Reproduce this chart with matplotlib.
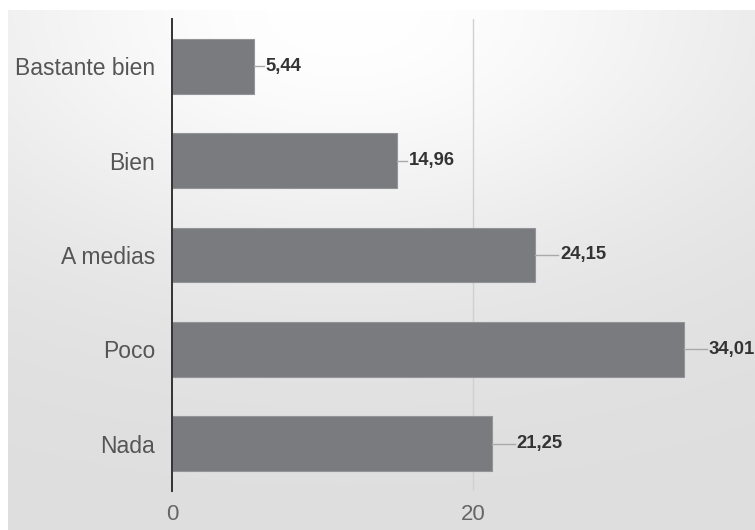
import numpy as np
import matplotlib.pyplot as plt

# data
categories = ["Bastante bien", "Bien", "A medias", "Poco", "Nada"]
values = [5.44, 14.96, 24.15, 34.01, 21.25]
value_labels = ["5,44", "14,96", "24,15", "34,01", "21,25"]

plt.rcParams['font.family'] = ['Liberation Sans', 'DejaVu Sans']

fig = plt.figure(figsize=(7.55, 5.30), dpi=100)

# soft grey gradient background (lighter near the top centre)
bg = fig.add_axes([8 / 755, 0, 1 - 8 / 755, 520 / 530], zorder=-1)
gx, gy = np.meshgrid(np.linspace(0, 1, 300), np.linspace(0, 1, 220))
glow = np.exp(-(((gx - 0.45) / 0.6) ** 2 + ((gy - 1.0) / 0.5) ** 2))
shade = 0.87 + (1.0 - 0.87) * glow
img = np.dstack([shade, shade, shade * 1.004]).clip(0, 1)
bg.imshow(img, origin='lower', extent=[0, 1, 0, 1], aspect='auto')
bg.axis('off')

ax = fig.add_axes([172 / 755, 1 - 491 / 530, 1 - 172 / 755, 472 / 530])
ax.set_facecolor('none')

y = np.arange(len(categories))
ax.barh(y, values, height=0.58, color='#7a7b7e', edgecolor='#939497', linewidth=0.8, zorder=3)

# leader lines and value labels
for i, (v, lab) in enumerate(zip(values, value_labels)):
    lead = 0.66 if v < 20 else 1.53
    ax.plot([v, v + lead], [i, i], color='#a8a9ab', lw=1, zorder=3, clip_on=False)
    ax.text(v + lead + 0.12, i, lab, va='center', ha='left', fontsize=13.3,
            fontweight='bold', color='#333333', clip_on=False)

ax.set_xlim(0, (755 - 172) / 15.05)
ax.set_ylim(4.5, -0.5)
ax.set_yticks(y)
ax.set_yticklabels(categories, fontsize=16.5, color='#555555')
ax.set_xticks([0, 20])
ax.set_xticklabels(['0', '20'], fontsize=16, color='#666666')
ax.tick_params(axis='both', length=0)
ax.tick_params(axis='y', pad=12)
ax.tick_params(axis='x', pad=9)

ax.axvline(20, color='#cfd0d2', lw=1, zorder=1)
for s in ['top', 'right', 'bottom']:
    ax.spines[s].set_visible(False)
ax.spines['left'].set_color('#333333')
ax.spines['left'].set_linewidth(1.4)
ax.spines['left'].set_zorder(4)

fig.savefig('out.png', dpi=100)
